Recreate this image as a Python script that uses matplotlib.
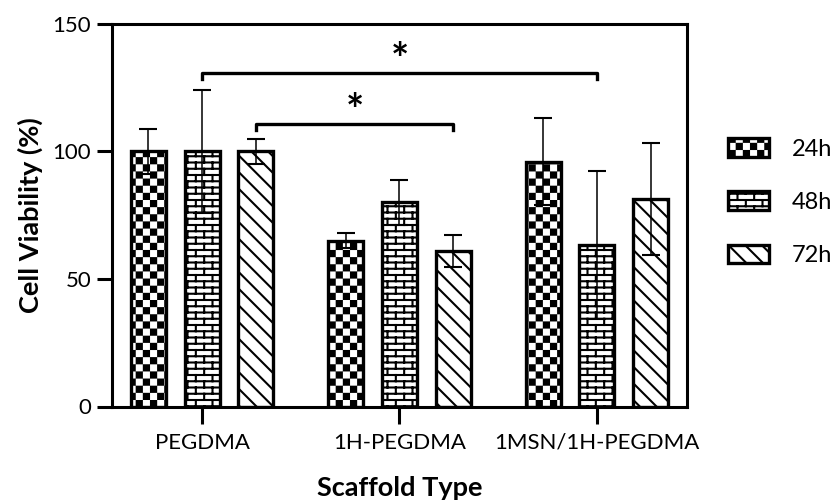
import numpy as np
import matplotlib
matplotlib.use('Agg')
import matplotlib.pyplot as plt
from matplotlib import hatch as mhatch
from matplotlib.path import Path

# data
groups = ['PEGDMA', '1H-PEGDMA', '1MSN/1H-PEGDMA']
timepoints = ['24h', '48h', '72h']
viab_24h = [100, 65, 96]
viab_48h = [100, 80, 63.2]
viab_72h = [100, 61, 81.3]
sd_24h = [9, 3, 17]
sd_48h = [24, 9, 29]
sd_72h = [5, 6.3, 22]
# significance brackets: (group a, group b, timepoint index, bracket height, star height)
sig_brackets = [(0, 2, 1, 130.7, 140.2), (0, 1, 2, 110.7, 120.2)]


# custom hatches: 'o' -> checkerboard, 'O' -> bricks
class CheckerHatch(mhatch.HatchPatternBase):
    def __init__(self, hatch, density):
        self.n = 14 if 'o' in hatch else 0
        self.num_vertices = (self.n * self.n // 2) * 5

    def set_vertices_and_codes(self, vertices, codes):
        s = 1.0 / self.n
        d = 0.01  # inset so the stroke does not fatten the squares
        sq = np.array([[d, d], [s - d, d], [s - d, s - d], [d, s - d], [d, d]])
        k = 0
        for j in range(self.n):
            for i in range(j % 2, self.n, 2):
                vertices[k:k + 5] = sq + [i * s, j * s]
                codes[k:k + 5] = [Path.MOVETO, Path.LINETO, Path.LINETO,
                                  Path.LINETO, Path.CLOSEPOLY]
                k += 5


class BrickHatch(mhatch.HatchPatternBase):
    def __init__(self, hatch, density):
        self.rows = 16 if 'O' in hatch else 0
        self.cols = 6
        if self.rows:
            self.num_vertices = (self.rows + 1) * 2 + self.rows * self.cols * 2
        else:
            self.num_vertices = 0

    def set_vertices_and_codes(self, vertices, codes):
        h = 1.0 / self.rows
        w = 1.0 / self.cols
        k = 0
        for j in range(self.rows + 1):
            vertices[k:k + 2] = [[0, j * h], [1, j * h]]
            codes[k:k + 2] = [Path.MOVETO, Path.LINETO]
            k += 2
        for j in range(self.rows):
            for c in range(self.cols):
                x = (c + 0.25 + 0.5 * (j % 2)) * w
                vertices[k:k + 2] = [[x, j * h], [x, (j + 1) * h]]
                codes[k:k + 2] = [Path.MOVETO, Path.LINETO]
                k += 2


mhatch._hatch_types[:] = [t for t in mhatch._hatch_types
                          if t not in (mhatch.SmallCircles, mhatch.LargeCircles)]
mhatch._hatch_types += [CheckerHatch, BrickHatch]

plt.rcParams['font.family'] = ['Lato', 'DejaVu Sans']
plt.rcParams['hatch.linewidth'] = 1.5
plt.rcParams['hatch.color'] = 'black'

fig = plt.figure(figsize=(8.37, 5), dpi=100)
W, H = 837, 500
ax = fig.add_axes([112 / W, 1 - 406.5 / H, 575 / W, 382.5 / H])

values = [viab_24h, viab_48h, viab_72h]
errors = [sd_24h, sd_48h, sd_72h]
hatches = ['o', 'O', '\\\\']
offset = 0.273
width = 0.177
xg = np.arange(len(groups))

bars = []
for k in range(3):
    xpos = xg + (k - 1) * offset
    b = ax.bar(xpos, values[k], width, color='white', edgecolor='black',
               linewidth=2.4, hatch=hatches[k], label=timepoints[k], zorder=2)
    bars.append(b)
    ax.errorbar(xpos, values[k], yerr=errors[k], fmt='none', ecolor='black',
                elinewidth=1.1, capsize=6.5, capthick=1.5, zorder=3)

# significance brackets
for ga, gb, t, yb, ys in sig_brackets:
    x1 = ga + (t - 1) * offset
    x2 = gb + (t - 1) * offset
    ax.plot([x1, x1, x2, x2], [yb - 2.4, yb, yb, yb - 2.4], color='black',
            lw=2.4, clip_on=False, zorder=4)
    # the asterisk glyph sits high in its box, nudge it down
    ax.annotate('*', ((x1 + x2) / 2, ys), xytext=(0, -6),
                textcoords='offset points', ha='center', va='center_baseline',
                fontsize=31, fontweight='bold')

ax.set_xlim(-0.456, 2.456)
ax.set_ylim(0, 150)
ax.set_yticks([0, 50, 100, 150])
ax.set_xticks(xg)
ax.set_xticklabels(groups)
for s in ax.spines.values():
    s.set_linewidth(2.2)
ax.tick_params(axis='both', width=2.2, labelsize=16)
ax.tick_params(axis='x', length=12, pad=7)
ax.tick_params(axis='y', length=11, pad=4)

ax.set_ylabel('Cell Viability (%)', fontsize=19.5, fontweight='bold')
ax.set_xlabel('Scaffold Type', fontsize=19.5, fontweight='bold')
ax.yaxis.label.set_va('center')
ax.xaxis.label.set_va('center')
ax.yaxis.set_label_coords((30 - 112) / 575, 0.5)
ax.xaxis.set_label_coords(0.5, -(488 - 406.5) / 382.5)

fig.legend(handles=bars, loc='upper left', bbox_to_anchor=(728 / W, 1 - 138 / H),
           frameon=False, fontsize=17, borderpad=0, borderaxespad=0,
           handlelength=1.73, handleheight=0.84, handletextpad=0.97,
           labelspacing=1.35)

fig.savefig('out.png', dpi=100)
